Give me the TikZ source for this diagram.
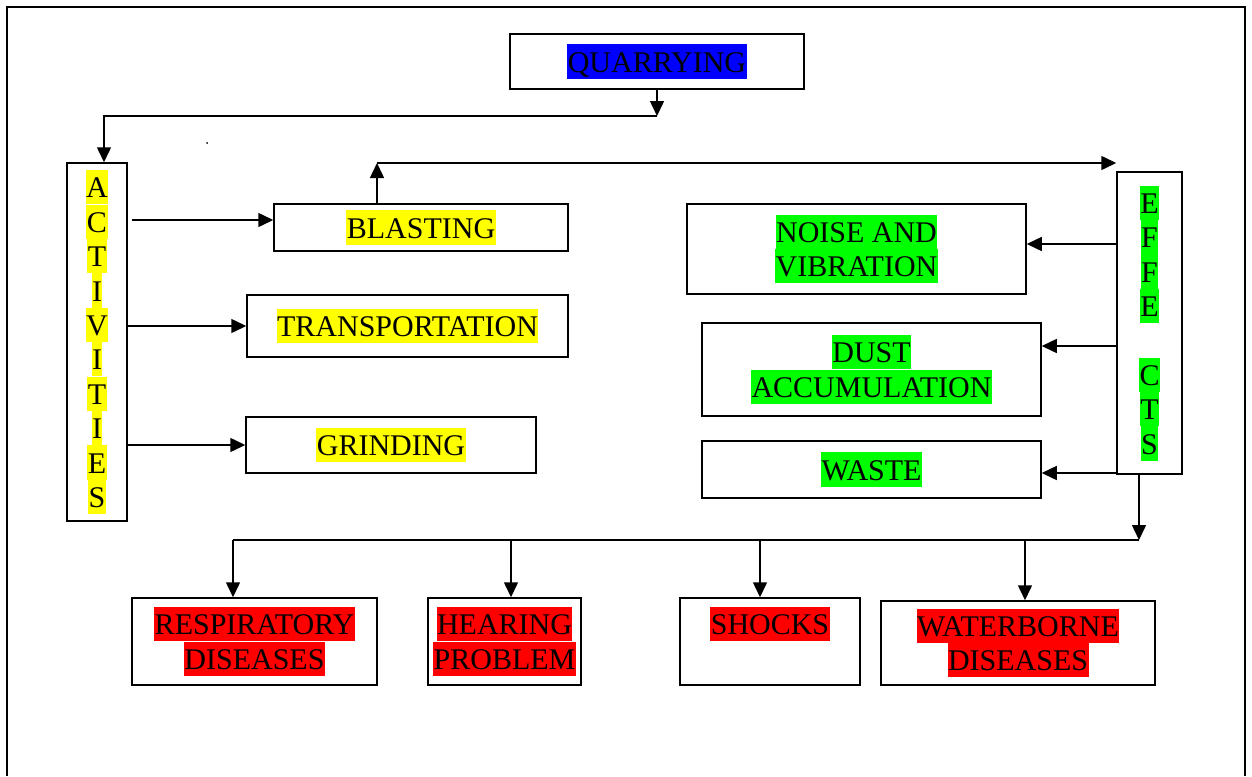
\documentclass[tikz,border=0pt]{standalone}
\usepackage{fontspec}
\setmainfont{Liberation Serif}
\usepackage{xcolor}
\usetikzlibrary{arrows.meta,positioning}

\definecolor{hlblue}{RGB}{0,0,255}
\definecolor{hlyellow}{RGB}{255,255,0}
\definecolor{hlgreen}{RGB}{0,255,0}
\definecolor{hlred}{RGB}{255,0,0}

% highlighted line of text
\newcommand{\hlstrut}{\rule[-6.5pt]{0pt}{34.2pt}}
\newcommand{\hl}[2]{{\setlength{\fboxsep}{0pt}\colorbox{#1}{\hlstrut\hspace{0.5pt}#2\hspace{0.5pt}}}}

\begin{document}
\begin{tikzpicture}[
    x=1pt,
    y=-1pt,
    >=Triangle,
    arr/.style={
        line width=1.5pt,
        -{Triangle[length=15pt,width=14pt]}
    },
    conn/.style={line width=1.5pt},
    box/.style={
        draw=black,
        line width=1.5pt,
        inner sep=0pt,
        align=center,
        font=\fontsize{30}{34.4}\selectfont
    }
]

\useasboundingbox (0,0) rectangle (1252,776);

% ---------------------------------------------------------
% Outer frame
% ---------------------------------------------------------

\draw[line width=1.5pt]
    (7,776) |- (1245,7) -- (1245,776);

\fill (207,143) circle (1pt);

% ---------------------------------------------------------
% Top box
% ---------------------------------------------------------

\node[box,minimum width=294pt,minimum height=55pt]
    (quarry) at (657,61.5)
{\hl{hlblue}{QUARRYING}};

% ---------------------------------------------------------
% Activities column and its boxes
% ---------------------------------------------------------

\node[box,minimum width=60pt,minimum height=358pt]
    (act) at (97,342)
{
\hl{hlyellow}{A}\\\hl{hlyellow}{C}\\\hl{hlyellow}{T}\\
\hl{hlyellow}{I}\\\hl{hlyellow}{V}\\\hl{hlyellow}{I}\\
\hl{hlyellow}{T}\\\hl{hlyellow}{I}\\\hl{hlyellow}{E}\\
\hl{hlyellow}{S}
};

\node[box,minimum width=294pt,minimum height=47pt]
    (blast) at (421,227.5)
{\hl{hlyellow}{BLASTING}};

\node[box,minimum width=321pt,minimum height=62pt]
    (trans) at (407.5,326)
{\hl{hlyellow}{TRANSPORTATION}};

\node[box,minimum width=290pt,minimum height=56pt]
    (grind) at (391,445)
{\hl{hlyellow}{GRINDING}};

% ---------------------------------------------------------
% Effects column and its boxes
% ---------------------------------------------------------

\node[box,minimum width=65pt,minimum height=302pt]
    (eff) at (1149.5,323)
{
\hl{hlgreen}{E}\\\hl{hlgreen}{F}\\\hl{hlgreen}{F}\\
\hl{hlgreen}{E}\\\hlstrut\\
\hl{hlgreen}{C}\\\hl{hlgreen}{T}\\\hl{hlgreen}{S}
};

\node[box,minimum width=339pt,minimum height=90pt]
    (noise) at (856.5,249)
{\hl{hlgreen}{NOISE AND}\\\hl{hlgreen}{VIBRATION}};

\node[box,minimum width=339pt,minimum height=93pt]
    (dust) at (871.5,369.5)
{\hl{hlgreen}{DUST}\\\hl{hlgreen}{ACCUMULATION}};

\node[box,minimum width=339pt,minimum height=57pt]
    (waste) at (871.5,469.5)
{\hl{hlgreen}{WASTE}};

% ---------------------------------------------------------
% Health boxes
% ---------------------------------------------------------

\node[box,minimum width=245pt,minimum height=87pt]
    (resp) at (254.5,641.5)
{\hl{hlred}{RESPIRATORY}\\\hl{hlred}{DISEASES}};

\node[box,minimum width=153pt,minimum height=87pt]
    (hear) at (504.5,641.5)
{\hl{hlred}{HEARING}\\\hl{hlred}{PROBLEM}};

\node[box,minimum width=180pt,minimum height=87pt]
    (shock) at (770,641.5)
{\hl{hlred}{SHOCKS}\\\hlstrut};

\node[box,minimum width=274pt,minimum height=84pt]
    (water) at (1018,643)
{\hl{hlred}{WATERBORNE}\\\hl{hlred}{DISEASES}};

% ---------------------------------------------------------
% Connectors
% ---------------------------------------------------------

\coordinate (qdrop) at (657,116);
\coordinate (actin) at (104,116);
\coordinate (a1) at (132,220);
\coordinate (btop) at (377,163);
\coordinate (e1) at (1117,244);
\coordinate (e2) at (1117,346);
\coordinate (e3) at (1117,473);
\coordinate (ebus) at (1139,540);
\coordinate (hbus) at (233,540);

% quarrying to activities
\draw[arr] (quarry.south) -- (qdrop);
\draw[arr] (qdrop) -- (actin) -- (actin |- act.north);

% activities to each activity
\draw[arr] (a1) -- (a1 -| blast.west);
\draw[arr] (act.east |- trans.west) -- (trans.west);
\draw[arr] (act.east |- grind.west) -- (grind.west);

% blasting to effects
\draw[arr] (btop |- blast.north) -- (btop);
\draw[arr] (btop) -- (btop -| eff.west);

% effects to each effect
\draw[arr] (e1) -- (e1 -| noise.east);
\draw[arr] (e2) -- (e2 -| dust.east);
\draw[arr] (e3) -- (e3 -| waste.east);

% effects down to health boxes
\draw[arr] (ebus |- eff.south) -- (ebus);
\draw[conn] (hbus) -- (ebus);

\foreach \x/\n in {233/resp,511/hear,760/shock,1025/water}
{
    \coordinate (t\n) at (\x,540);
    \draw[arr] (t\n) -- (t\n |- \n.north);
}

\end{tikzpicture}
\end{document}
